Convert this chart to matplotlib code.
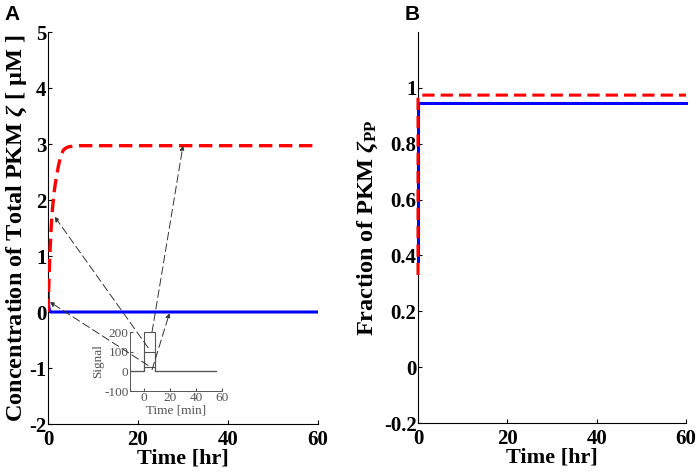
import matplotlib

matplotlib.use("Agg")
import matplotlib.pyplot as plt

plt.rcParams["font.family"] = ["Liberation Serif", "DejaVu Serif"]
plt.rcParams["mathtext.fontset"] = "custom"
plt.rcParams["mathtext.rm"] = "Liberation Serif:bold"
plt.rcParams["mathtext.it"] = "Liberation Serif:italic:bold"
plt.rcParams["mathtext.bf"] = "Liberation Serif:bold"
plt.rcParams["axes.unicode_minus"] = False

# panel A: total PKM zeta concentration (uM) vs time (hr)
red_t_a = [0, 0.15, 0.4, 0.7, 1.0, 1.3, 1.6, 1.9, 2.3, 2.8, 3.4, 4.0, 4.6, 5.5, 7, 60]
red_y_a = [0, 0.4, 1.0, 1.5, 1.85, 2.1, 2.28, 2.42, 2.6, 2.78, 2.89, 2.93, 2.95, 2.96, 2.97, 2.97]
blue_t_a = [0, 0.05, 0.15, 0.3, 0.6, 60]
blue_y_a = [0.55, 0.3, 0.12, 0.04, 0.0, 0.0]

# panel B: fraction of PKM zeta PP
red_t_b = [0, 0, 0.3, 60]
red_y_b = [0.33, 0.968, 0.974, 0.974]
blue_t_b = [0, 0, 60]
blue_y_b = [0.38, 0.946, 0.946]

# inset: stimulus signal (min)
sig_t = [-10, 0, 0, 8, 8, 55]
sig_heights = [200, 100, 20]

# arrows: (point on main axes, tail in inset)
arrows = [
    ((1.5, 1.7), (3, 120)),
    ((0.4, 0.18), (3, 30)),
    ((30, 2.97), (6, 200)),
    ((27, -0.02), (6, 8)),
]

fig = plt.figure(figsize=(6.99, 4.73), dpi=100)
ax = fig.add_axes([48 / 699, 49 / 473, 270 / 699, 392 / 473])
bx = fig.add_axes([418 / 699, 50 / 473, 268 / 699, 391 / 473])

for a in (ax, bx):
    a.spines["top"].set_visible(False)
    a.spines["right"].set_visible(False)
    a.tick_params(direction="in", length=3, labelsize=15, pad=1)
    a.tick_params(axis="x", pad=4)
    a.set_xlim(0, 60)
    a.set_xticks([0, 20, 40, 60])
    a.set_xlabel("Time [hr]", labelpad=-1, fontsize=16, fontweight="bold")

ax.plot(red_t_a, red_y_a, color="red", lw=2.4, ls=(0, (4, 2)), zorder=3)
ax.plot(blue_t_a, blue_y_a, color="blue", lw=2.2, zorder=2)
ax.set_ylim(-2, 5)
ax.set_yticks(range(-2, 6))
ax.set_ylabel(r"Concentration of Total PKM $\zeta$ [ μM ]", labelpad=0,
              fontsize=17.5, fontweight="bold")

bx.plot(blue_t_b, blue_y_b, color="blue", lw=2.2, clip_on=False, zorder=4)
bx.plot(red_t_b, red_y_b, color="red", lw=2.2, ls=(0, (4, 2)), clip_on=False, zorder=5)
bx.set_ylim(-0.2, 1.2)
bx.set_yticks([-0.2, 0, 0.2, 0.4, 0.6, 0.8, 1.0])
bx.set_yticklabels(["-0.2", "0", "0.2", "0.4", "0.6", "0.8", "1"])
bx.set_ylabel(r"Fraction of PKM $\zeta_{\rm PP}$", labelpad=3,
              fontsize=17.5, fontweight="bold")

for a in (ax, bx):
    for lab in a.get_xticklabels() + a.get_yticklabels():
        lab.set_fontweight("bold")

# inset
gray = "#555555"
ins = fig.add_axes([130 / 699, 82 / 473, 92 / 699, 59 / 473])
ins.patch.set_alpha(0)
for h in sig_heights:
    ins.plot(sig_t, [0, 0, h, h, 0, 0], color=gray, lw=0.8)
ins.set_xlim(-11, 60)
ins.set_ylim(-100, 200)
ins.set_xticks([0, 20, 40, 60])
ins.set_yticks([-100, 0, 100, 200])
ins.spines["top"].set_visible(False)
ins.spines["right"].set_visible(False)
for s in ("left", "bottom"):
    ins.spines[s].set_color(gray)
    ins.spines[s].set_linewidth(0.7)
ins.tick_params(direction="in", length=2, labelsize=9.5, colors=gray, pad=1)
ins.set_xlabel("Time [min]", fontsize=9.5, color=gray, labelpad=0)
ins.set_ylabel("Signal", fontsize=9.5, color=gray, labelpad=0)

for (xy, tail) in arrows:
    ins.annotate(
        "", xy=xy, xycoords=ax.transData, xytext=tail, textcoords="data",
        arrowprops=dict(arrowstyle="-|>", color="#333333", lw=0.7,
                        ls=(0, (8, 4)), mutation_scale=7, shrinkA=0, shrinkB=0),
        annotation_clip=False,
    )

fig.text(12 / 699, 1 - 15 / 473, "A", family="Liberation Sans", fontsize=15,
         fontweight="bold", ha="center", va="center")
fig.text(412 / 699, 1 - 15 / 473, "B", family="Liberation Sans", fontsize=15,
         fontweight="bold", ha="center", va="center")

fig.savefig("out.png", dpi=100)
